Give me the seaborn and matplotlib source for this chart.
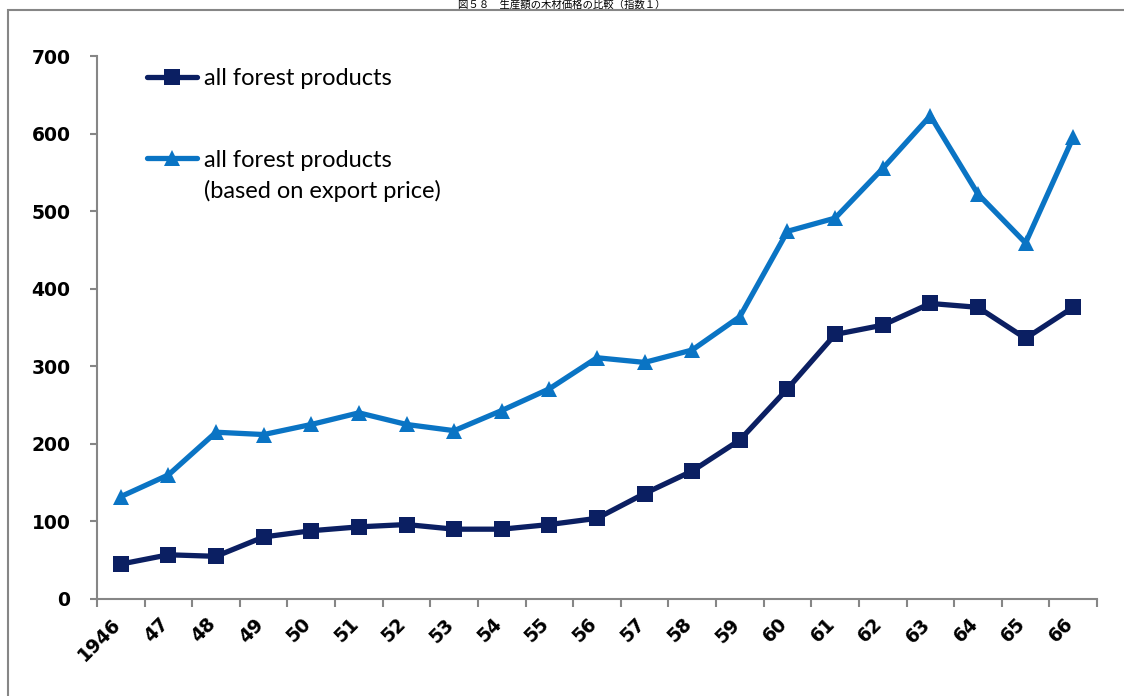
import matplotlib
matplotlib.use("Agg")
import matplotlib.pyplot as plt
import matplotlib.transforms as mtransforms
import seaborn as sns
import pandas as pd
import numpy as np
from matplotlib.patches import Rectangle

years = ["1946", "47", "48", "49", "50", "51", "52", "53", "54", "55", "56",
         "57", "58", "59", "60", "61", "62", "63", "64", "65", "66"]
all_forest = [45, 57, 55, 80, 88, 93, 96, 90, 90, 96, 104,
              136, 165, 205, 271, 341, 353, 381, 376, 336, 376]
all_forest_export = [132, 160, 215, 212, 225, 240, 225, 217, 243, 271, 311,
                     305, 321, 364, 474, 491, 555, 623, 522, 459, 595]
label_a = "all forest products"
label_b_line1 = "all forest products"
label_b_line2 = "(based on export price)"
series_a = "all forest products"
series_b = "all forest products (based on export price)"
title = "図５８　生産額の木材価格の比較（指数１）"

sns.set_theme(style="white")
plt.rcParams['font.family'] = ['Lato', 'Noto Sans CJK JP', 'DejaVu Sans']
plt.rcParams['text.color'] = 'black'
plt.rcParams['xtick.labelcolor'] = 'black'
plt.rcParams['ytick.labelcolor'] = 'black'

fig = plt.figure(figsize=(11.24, 6.96), dpi=100)
ax = fig.add_axes([97/1124, 1-599/696, 1000/1124, 543/696])

df = pd.DataFrame({
    "pos": list(range(len(years))) * 2,
    "value": all_forest + all_forest_export,
    "series": [series_a] * len(years) + [series_b] * len(years),
})
navy = "#0B1F62"
blue = "#0A74C4"
sns.lineplot(data=df, x="pos", y="value", hue="series", style="series",
             markers={series_a: "s", series_b: "^"}, dashes=False,
             palette={series_a: navy, series_b: blue}, linewidth=3.8,
             markersize=11, markeredgewidth=0, ax=ax)

ax.set_xlim(-0.5, len(years) - 0.5)
ax.set_ylim(0, 700)
ax.set_yticks(range(0, 701, 100))
ax.set_xlabel("")
ax.set_ylabel("")

gray = "#868686"
for s in ["top", "right"]:
    ax.spines[s].set_visible(False)
for s in ["left", "bottom"]:
    ax.spines[s].set_color(gray)
    ax.spines[s].set_linewidth(1.5)

tick_font = dict(family="DejaVu Sans", weight="bold", size=13.5, color="black")
ax.set_xticks(np.arange(-0.5, len(years), 1.0))
ax.set_xticklabels([])
ax.set_xticks(np.arange(len(years)), minor=True)
ax.set_xticklabels(years, minor=True, rotation=45, ha="right", va="center",
                   rotation_mode="anchor", fontdict=tick_font)
ax.tick_params(axis="x", which="major", direction="out", length=6, width=1.5,
               color=gray, bottom=True)
ax.tick_params(axis="x", which="minor", length=0, pad=16, bottom=True)
ax.tick_params(axis="y", direction="out", length=5, width=1.5, color=gray,
               left=True, pad=14)
ax.set_yticklabels([str(v) for v in range(0, 701, 100)], fontdict=tick_font)
shift = mtransforms.ScaledTranslation(-3/100, 0, fig.dpi_scale_trans)
for t in ax.get_xticklabels(minor=True):
    t.set_transform(t.get_transform() + shift)

handles, _ = ax.get_legend_handles_labels()
leg = ax.legend(handles[:2], [label_a, label_b_line1], loc="upper left",
                bbox_to_anchor=(0.0406, 0.9945), frameon=False,
                fontsize=17, handlelength=2.1, labelspacing=2.55,
                handletextpad=0.3, borderaxespad=0, borderpad=0.4,
                labelcolor="black")

fig.canvas.draw()
bb = leg.get_texts()[1].get_window_extent()
fig.text(bb.x0 / fig.bbox.width, (bb.y0 + bb.y1) / 2 / fig.bbox.height - 31/696,
         label_b_line2, ha="left", va="center", fontsize=17, color="black")

fig.patches.append(Rectangle((8/1124, -0.1), 1.2, 1 - 10/696 + 0.1,
                             transform=fig.transFigure, fill=False,
                             edgecolor=gray, linewidth=1.5, clip_on=False))
fig.text(0.5, 1.0, title, ha="center", va="top", fontsize=7.5, color="black",
         family=['Noto Sans CJK JP', 'DejaVu Sans'])

fig.savefig("out.png", dpi=100)
